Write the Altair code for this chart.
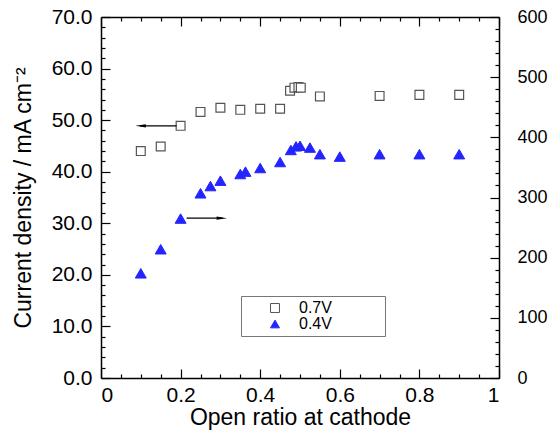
import altair as alt
import pandas as pd

# ---- data ----
x_07 = [0.10, 0.15, 0.20, 0.25, 0.30, 0.35, 0.40, 0.45, 0.475, 0.486, 0.496, 0.502, 0.55, 0.70, 0.80, 0.90]
y_07 = [44.0, 44.9, 48.9, 51.6, 52.4, 52.0, 52.2, 52.2, 55.7, 56.3, 56.4, 56.3, 54.6, 54.7, 54.9, 54.9]

x_04 = [0.10, 0.15, 0.20, 0.25, 0.275, 0.30, 0.35, 0.363, 0.40, 0.45, 0.477, 0.490, 0.500, 0.525, 0.55, 0.60, 0.70, 0.80, 0.90]
y_04 = [174, 214, 265, 307, 319, 328, 339, 343, 349, 359, 379, 385, 386, 383, 372, 368, 372, 372, 372]

series_names = ["0.7V", "0.4V"]
x_ticks = [round(i * 0.05, 2) for i in range(21)]
x_labels = [0, 0.2, 0.4, 0.6, 0.8, 1]
yl_ticks = list(range(0, 71, 2))
yl_labels = list(range(0, 71, 10))
yr_ticks = list(range(0, 601, 20))
yr_labels = list(range(0, 601, 100))

# arrows (annotation): line x-extent, head x, y on left scale
arrow_left = {"x1": 0.098, "x2": 0.19, "head": 0.0995, "y": 48.9}
arrow_right = {"x1": 0.215, "x2": 0.305, "head": 0.3035, "y": 31.0}

W, H = 398, 361
XD = [0, 1]
YLD = [0, 70]
YRD = [0, 600]

df07 = pd.DataFrame({"x": x_07, "y": y_07, "series": "0.7V"})
df04 = pd.DataFrame({"x": x_04, "y": y_04, "series": "0.4V"})

FONT = "Liberation Sans"
base_axis = dict(labelFont=FONT, titleFont=FONT, labelColor="black", titleColor="black",
                 domainColor="black", tickColor="black", titleFontWeight="normal")

# invisible spacer title widens the legend box to the reference's width
def leg():
    return alt.Legend(title="00000", titleOrient="right", titleOpacity=0, titlePadding=4,
                      titleFontSize=16, titleFont=FONT)

fill_enc = alt.Fill("series:N", scale=alt.Scale(domain=series_names, range=["white", "#2424ff"]), legend=leg())
stroke_enc = alt.Stroke("series:N", scale=alt.Scale(domain=series_names, range=["#555555", "#2424ff"]), legend=leg())
shape_enc = alt.Shape("series:N", scale=alt.Scale(domain=series_names, range=["square", "triangle-up"]), legend=leg())

# layer 1: squares, bottom axis labels, left axis labels
sq = alt.Chart(df07).mark_point(filled=True, size=78, strokeWidth=1.2, opacity=1).encode(
    x=alt.X("x:Q", scale=alt.Scale(domain=XD, nice=False, zero=False),
            axis=alt.Axis(orient="bottom", values=x_labels, format="~g", ticks=False, labelFontSize=21,
                          labelPadding=6, title="Open ratio at cathode", titleFontSize=23,
                          titlePadding=1, domainWidth=1.5, grid=False, **base_axis)),
    y=alt.Y("y:Q", scale=alt.Scale(domain=YLD, nice=False),
            axis=alt.Axis(orient="left", values=yl_labels, format=".1f", ticks=False, labelFontSize=21,
                          labelPadding=9, title="Current density / mA cm\u207b\u00b2", titleFontSize=23,
                          titlePadding=16, domainWidth=1.5, grid=False, **base_axis)),
    fill=fill_enc, stroke=stroke_enc, shape=shape_enc,
)

# layer 2: triangles, top frame, right axis labels
tr = alt.Chart(df04).mark_point(filled=True, size=120, strokeWidth=1, opacity=1).encode(
    x=alt.X("x:Q", scale=alt.Scale(domain=XD, nice=False, zero=False),
            axis=alt.Axis(orient="top", ticks=False, labels=False, title=None, domainWidth=1.5,
                          grid=False, **base_axis)),
    y=alt.Y("y:Q", scale=alt.Scale(domain=YRD, nice=False),
            axis=alt.Axis(orient="right", values=yr_labels, format="d", ticks=False, labelFontSize=18,
                          labelPadding=18, title=None, domainWidth=1.5, grid=False, **base_axis)),
    fill=fill_enc, stroke=stroke_enc, shape=shape_enc,
)

maj_x = alt.condition("abs(datum.value*5 - round(datum.value*5)) < 0.001", alt.value(9), alt.value(4))
maj_yl = alt.condition("datum.value % 10 == 0", alt.value(9), alt.value(4))
maj_yr = alt.condition("datum.value % 100 == 0", alt.value(9), alt.value(4))

tick_axis = dict(labels=False, domain=False, title=None, grid=False, tickWidth=1.2, **base_axis)

# layer 3: inward ticks on bottom and left
t1 = alt.Chart(df07).mark_point(opacity=0).encode(
    x=alt.X("x:Q", scale=alt.Scale(domain=XD, nice=False, zero=False),
            axis=alt.Axis(orient="top", offset=-H, values=x_ticks, tickSize=maj_x, **tick_axis)),
    y=alt.Y("y:Q", scale=alt.Scale(domain=YLD, nice=False),
            axis=alt.Axis(orient="right", offset=-W, values=yl_ticks, tickSize=maj_yl, **tick_axis)),
)

# layer 4: inward ticks on top and right
t2 = alt.Chart(df04).mark_point(opacity=0).encode(
    x=alt.X("x:Q", scale=alt.Scale(domain=XD, nice=False, zero=False),
            axis=alt.Axis(orient="bottom", offset=-H, values=x_ticks, tickSize=maj_x, **tick_axis)),
    y=alt.Y("y:Q", scale=alt.Scale(domain=YRD, nice=False),
            axis=alt.Axis(orient="left", offset=-W, values=yr_ticks, tickSize=maj_yr, **tick_axis)),
)

# arrows
arr = pd.DataFrame([
    dict(x1=arrow_left["x1"], x2=arrow_left["x2"], head=arrow_left["head"], y=arrow_left["y"],
         shape="M-1,0L1,-0.32L1,0.32Z"),
    dict(x1=arrow_right["x1"], x2=arrow_right["x2"], head=arrow_right["head"], y=arrow_right["y"],
         shape="M1,0L-1,-0.32L-1,0.32Z"),
])
xs = alt.Scale(domain=XD, nice=False, zero=False)
ys = alt.Scale(domain=YLD, nice=False)
arr_line = alt.Chart(arr).mark_rule(color="black", strokeWidth=1.2).encode(
    x=alt.X("x1:Q", scale=xs, axis=None), x2="x2:Q",
    y=alt.Y("y:Q", scale=ys, axis=None),
)
arr_head = alt.Chart(arr).mark_point(filled=True, color="black", size=110, opacity=1).encode(
    x=alt.X("head:Q", scale=xs, axis=None),
    y=alt.Y("y:Q", scale=ys, axis=None),
    shape=alt.Shape("shape:N", scale=None, legend=None),
)

chart = alt.layer(sq, tr, t1, t2, arr_line, arr_head).resolve_scale(
    x="independent", y="independent"
).properties(
    width=W, height=H,
    autosize=alt.AutoSizeParams(type="none"),
    padding={"left": 101, "top": 17, "right": 56, "bottom": 54},
).configure_view(stroke=None).configure_legend(
    orient="none", legendX=140, legendY=279, fillColor="white", strokeColor="#777777",
    padding=4, symbolOffset=22, labelOffset=16, labelFont=FONT, labelFontSize=16, labelColor="black",
    symbolSize=80, symbolStrokeWidth=1, rowPadding=0,
)

chart.save("out.html", embed_options={"renderer": "svg", "actions": False})
